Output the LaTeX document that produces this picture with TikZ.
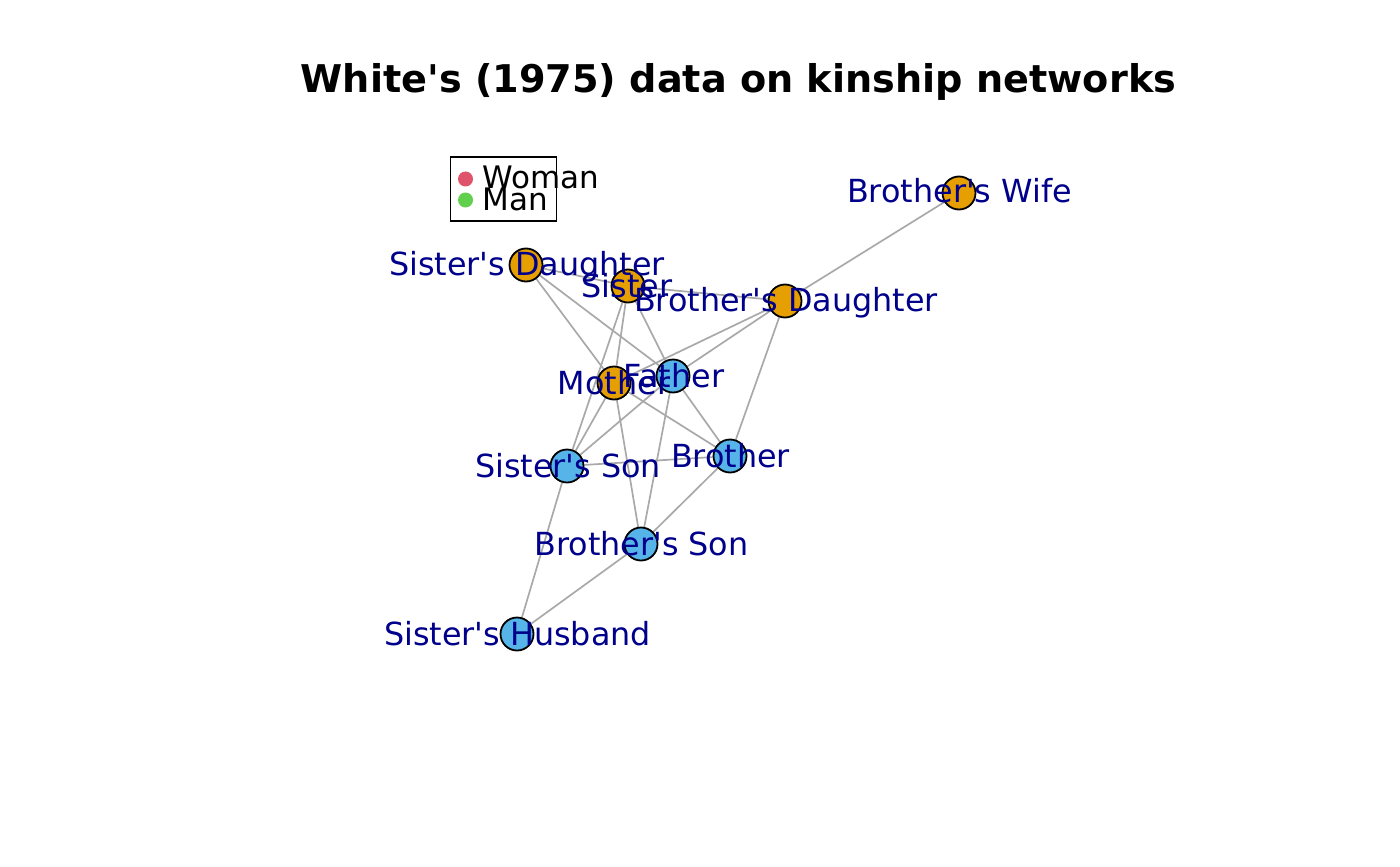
\documentclass[tikz,border=0pt]{standalone}
\usepackage{fontspec}
\setmainfont{DejaVu Sans}[Ligatures=TeXOff]
\usetikzlibrary{backgrounds}
\definecolor{femcol}{HTML}{E69F00}
\definecolor{malecol}{HTML}{56B4E9}
\definecolor{labcol}{HTML}{00008B}
\definecolor{edgecol}{HTML}{A9A9A9}
\definecolor{womancol}{HTML}{DF536B}
\definecolor{mancol}{HTML}{61D04F}
\begin{document}
\begin{tikzpicture}[x=0.5pt,y=-0.5pt,
  vert/.style={circle,draw=black,line width=0.9pt,minimum size=16.5pt,inner sep=0pt},
  fem/.style={vert,fill=femcol},
  male/.style={vert,fill=malecol},
  lab/.style={anchor=base,text=labcol,font=\fontsize{15.9}{18}\selectfont,inner sep=0pt},
  edge/.style={draw=edgecol,line width=0.85pt},
  dot/.style={circle,inner sep=0pt,minimum size=7.5pt},
  legtext/.style={anchor=base west,inner sep=0pt,font=\fontsize{15.5}{18}\selectfont}]
\useasboundingbox (0,0) rectangle (1400,866);
% title
\node[anchor=base,inner sep=0pt,font=\fontsize{19.1}{22}\selectfont\bfseries] (title) at (738.5,93) {White's (1975) data on kinship networks};
% vertices
\node[fem]  (SD) at (526,265) {};
\node[fem]  (S)  at (628,286) {};
\node[fem]  (BD) at (785,301) {};
\node[fem]  (BW) at (959,193) {};
\node[fem]  (M)  at (614,383) {};
\node[male] (F)  at (673,376) {};
\node[male] (B)  at (730,456) {};
\node[male] (SS) at (567,466) {};
\node[male] (BS) at (641,544) {};
\node[male] (SH) at (517,634) {};
% edges
\begin{scope}[on background layer]
\draw[edge] (SD) -- (S);
\draw[edge] (S) -- (BD);
\draw[edge] (BD) -- (BW);
\draw[edge] (SD) -- (M);
\draw[edge] (SD) -- (F);
\draw[edge] (S) -- (M);
\draw[edge] (S) -- (F);
\draw[edge] (S) -- (SS);
\draw[edge] (BD) -- (M);
\draw[edge] (BD) -- (F);
\draw[edge] (BD) -- (B);
\draw[edge] (M) -- (SS);
\draw[edge] (M) -- (B);
\draw[edge] (M) -- (BS);
\draw[edge] (F) -- (SS);
\draw[edge] (F) -- (B);
\draw[edge] (F) -- (BS);
\draw[edge] (SS) -- (B);
\draw[edge] (SS) -- (SH);
\draw[edge] (BS) -- (B);
\draw[edge] (BS) -- (SH);
\end{scope}
% labels
\node[lab] (SD-l) at (527,275) {Sister's Daughter};
\node[lab] (S-l)  at (627,297) {Sister};
\node[lab] (BD-l) at (786,311) {Brother's Daughter};
\node[lab] (BW-l) at (959.5,203) {Brother's Wife};
\node[lab] (M-l)  at (614,394) {Mother};
\node[lab] (F-l)  at (674,387) {Father};
\node[lab] (B-l)  at (730.5,467) {Brother};
\node[lab] (SS-l) at (568,477) {Sister's Son};
\node[lab] (BS-l) at (641.5,555) {Brother's Son};
\node[lab] (SH-l) at (517.5,645) {Sister's Husband};
% legend
\node[draw=black,line width=0.7pt,minimum width=53pt,minimum height=32pt,inner sep=0pt] (legbox) at (503.5,189) {};
\node[dot,fill=womancol] (wdot) at (465.5,179) {};
\node[dot,fill=mancol] (mdot) at (465.5,200) {};
\node[legtext] (wtext) at (482,189) {Woman};
\node[legtext] (mtext) at (482,210.5) {Man};
\end{tikzpicture}
\end{document}
